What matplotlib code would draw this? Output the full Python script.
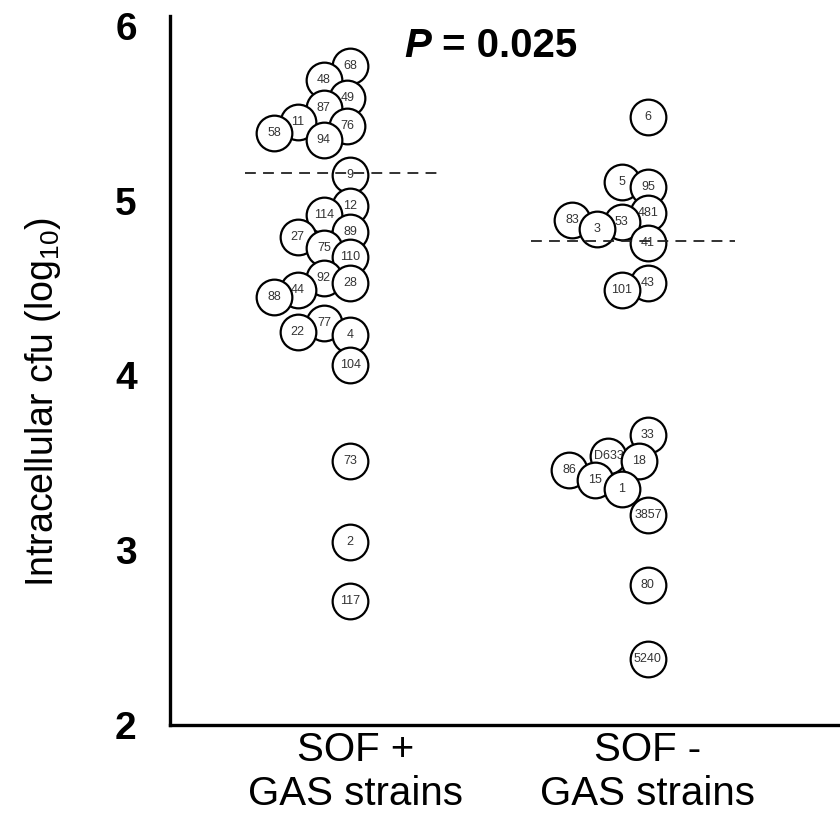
import matplotlib.pyplot as plt

plt.rcParams['font.family'] = ['Liberation Sans', 'DejaVu Sans']
plt.rcParams['mathtext.fontset'] = 'custom'
plt.rcParams['mathtext.rm'] = 'Liberation Sans'
plt.rcParams['mathtext.it'] = 'Liberation Sans:italic'

groups = ['SOF +\nGAS strains', 'SOF -\nGAS strains']

# SOF+ strains: label, log10 cfu, sideways jitter within the column
pos_labels = ['68', '48', '49', '87', '11', '76', '58', '94', '9', '12', '114', '89', '27',
              '75', '110', '92', '28', '44', '88', '77', '22', '4', '104', '73', '2', '117']
pos_values = [5.77, 5.69, 5.59, 5.53, 5.45, 5.43, 5.39, 5.35, 5.15, 4.97, 4.92, 4.82, 4.79,
              4.73, 4.68, 4.56, 4.53, 4.49, 4.45, 4.30, 4.25, 4.23, 4.06, 3.51, 3.05, 2.71]
pos_jitter = [-0.02, -0.11, -0.03, -0.11, -0.20, -0.03, -0.28, -0.11, -0.02, -0.02, -0.11, -0.02, -0.20,
              -0.11, -0.02, -0.11, -0.02, -0.20, -0.28, -0.11, -0.20, -0.02, -0.02, -0.02, -0.02, -0.02]

# SOF- strains
neg_labels = ['6', '5', '95', '481', '83', '53', '3', '41', '43', '101',
              '33', 'D633', '18', '86', '15', '1', '3857', '80', '5240']
neg_values = [5.48, 5.11, 5.08, 4.93, 4.89, 4.88, 4.84, 4.76, 4.53, 4.49,
              3.66, 3.54, 3.51, 3.46, 3.40, 3.35, 3.20, 2.80, 2.38]
neg_jitter = [0.0, -0.09, 0.0, 0.0, -0.26, -0.09, -0.175, 0.0, 0.0, -0.09,
              0.0, -0.135, -0.03, -0.27, -0.18, -0.09, 0.0, 0.0, 0.0]

medians = [5.16, 4.77]
p_value = 0.025

fig = plt.figure(figsize=(8.4, 8.18), dpi=100)
ax = fig.add_axes([0.2024, 0.1137, 0.7976, 0.8667])

z = 2
for gi, (labs, vals, jit) in enumerate([(pos_labels, pos_values, pos_jitter),
                                         (neg_labels, neg_values, neg_jitter)]):
    for lab, v, j in zip(labs, vals, jit):
        ax.scatter(gi + j, v, s=660, facecolor='white', edgecolor='black',
                   linewidth=1.6, zorder=z)
        ax.text(gi + j, v, lab, ha='center', va='center', fontsize=9,
                color='#333333', zorder=z + 1)
        z += 2

ax.plot([-0.38, 0.29], [medians[0]] * 2, color='#222222', lw=1.3,
        ls=(0, (6, 4)), zorder=z)
ax.plot([0.60, 1.30], [medians[1]] * 2, color='#222222', lw=1.3,
        ls=(0, (6, 4)), zorder=z)

ax.set_xlim(-0.637, 1.658)
ax.set_ylim(2, 6.057)
ax.set_yticks([2, 3, 4, 5, 6])
ax.set_yticklabels(['2', '3', '4', '5', '6'], fontsize=28, fontweight='bold')
ax.set_xticks([0, 1])
ax.set_xticklabels(groups, fontsize=29, linespacing=1.2)
ax.tick_params(axis='both', length=0)
ax.tick_params(axis='y', pad=24)
ax.tick_params(axis='x', pad=4)

for side in ['top', 'right']:
    ax.spines[side].set_visible(False)
for side in ['left', 'bottom']:
    ax.spines[side].set_linewidth(2.4)

ax.set_ylabel('Intracellular cfu (log$_{10}$)', fontsize=27)
ax.yaxis.set_label_coords(-0.16, 0.455)

t = ax.text(0.349, 0.958, 'P', transform=ax.transAxes, fontsize=29,
            fontweight='bold', fontstyle='italic', va='center', ha='left')
ax.annotate(' = %.3f' % p_value, xy=(1, 0), xycoords=t, fontsize=29,
            fontweight='bold', va='bottom', ha='left')

fig.savefig('out.png', dpi=100)
